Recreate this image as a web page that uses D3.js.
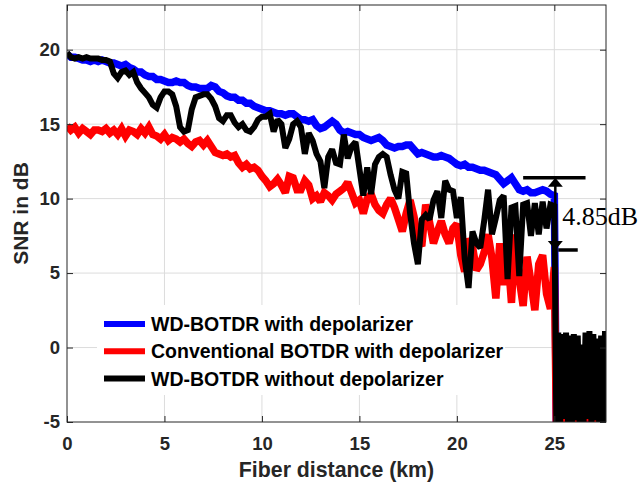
<!DOCTYPE html>
<html><head><meta charset="utf-8">
<script src="https://cdn.jsdelivr.net/npm/d3@7"></script>
<style>html,body{margin:0;padding:0;background:#fff;} svg{display:block;}</style>
</head><body><svg id="c" width="641" height="484"></svg>
<script>
// ---------------- DATA ----------------
const seriesNames = ["WD-BOTDR with depolarizer", "Conventional BOTDR with depolarizer", "WD-BOTDR without depolarizer"];
const xTicks = [0, 5, 10, 15, 20, 25];
const yTicks = [-5, 0, 5, 10, 15, 20];
const xLabel = "Fiber distance (km)";
const yLabel = "SNR in dB";
const annotationText = "4.85dB";
const annotationTop = 11.4;      // dB
const annotationBottom = 6.55;   // dB

// sampled 0 .. 25.0 km every 0.2 km
const blueMain = [
 19.7,19.5,19.5,19.4,19.3,19.3,19.2,19.3,19.2,19.3,
 19.2,19.1,19.1,19.0,18.9,19.0,18.8,18.7,18.5,18.5,
 18.3,18.2,18.2,18.0,18.0,17.9,17.8,17.8,17.9,17.8,
 17.8,17.6,17.5,17.5,17.4,17.4,17.4,17.6,17.5,17.2,
 17.1,16.9,16.8,16.8,16.6,16.6,16.4,16.4,16.2,16.1,
 16.0,15.9,15.9,15.8,15.7,15.7,15.6,15.7,15.7,15.5,
 15.3,15.3,15.2,15.3,14.9,14.7,14.8,15.0,15.2,15.0,
 14.6,14.4,14.5,14.4,14.3,14.3,14.1,14.0,13.9,14.0,
 14.1,13.9,13.6,13.5,13.4,13.5,13.5,13.6,13.6,13.3,
 13.0,13.1,13.0,12.9,12.8,12.8,12.9,12.8,12.7,12.5,
 12.3,12.2,12.3,12.1,12.1,12.0,11.9,11.9,11.8,11.7,
 11.6,11.3,11.0,11.2,11.4,11.0,10.6,10.5,10.6,10.4,
 10.4,10.5,10.6,10.5,10.3,10.2
];
const redMain = [
 14.9,14.6,14.8,14.4,14.7,14.5,14.3,14.6,14.6,14.5,
 14.7,14.4,14.6,14.3,14.7,14.2,14.6,14.5,14.3,14.7,
 14.4,14.8,14.3,14.2,14.0,14.3,13.9,14.1,14.0,13.8,
 14.0,13.7,13.5,13.8,13.9,13.6,13.9,13.5,13.1,13.0,
 12.9,13.0,12.8,12.9,12.4,12.1,12.3,12.0,12.1,11.9,
 11.5,11.2,10.8,11.0,11.3,10.9,10.4,11.5,11.4,10.6,
 10.6,11.2,10.9,10.0,10.2,9.8,10.4,10.2,9.9,10.3,
 10.5,10.7,11.1,10.4,9.7,9.9,9.0,10.0,10.3,9.6,
 9.2,9.0,9.6,10.0,9.4,8.6,7.8,9.0,9.9,8.8,
 7.2,6.8,9.6,8.4,7.0,7.8,8.5,7.6,7.0,8.0,
 8.3,6.2,5.1,7.3,6.8,5.2,5.6,6.4,7.6,6.0,
 3.3,7.0,4.2,6.5,3.0,7.6,4.6,2.8,6.1,4.4,
 2.5,5.6,6.2,3.6,2.6,5.4
];
const blackMain = [
 19.8,19.5,19.4,19.5,19.4,19.5,19.4,19.4,19.4,19.3,
 19.3,19.2,18.4,18.1,18.5,18.6,18.3,18.5,17.8,17.4,
 17.1,16.8,16.3,16.1,16.8,17.2,17.2,17.0,16.2,14.8,
 14.5,14.6,16.0,16.8,16.9,17.0,17.0,16.7,16.2,15.4,
 15.2,15.6,15.6,15.1,14.8,15.0,14.6,14.5,14.8,15.3,
 15.5,15.5,15.7,14.5,15.3,15.0,13.4,14.0,15.0,15.2,
 14.8,13.0,14.4,13.9,13.0,12.5,10.7,12.8,13.3,12.4,
 12.3,14.3,12.7,13.5,13.8,12.0,10.2,12.1,10.3,12.3,
 12.8,13.0,12.8,11.6,10.6,10.0,11.8,11.7,9.0,7.0,
 5.6,8.6,8.9,8.6,9.9,10.5,8.7,11.2,10.6,10.5,
 8.7,10.1,6.0,4.0,7.8,7.0,6.7,8.5,10.6,7.6,
 8.7,9.9,10.2,4.6,9.4,9.5,4.8,9.6,9.7,7.5,
 9.7,7.6,9.8,8.0,9.6,9.5
];
// sampled 25.1 .. 27.7 km every 0.1 km (beyond fiber end)
const blueTail = [
 -5.0,-2.5,-5.0,-2.8,-5.0,-2.2,-4.9,-3.0,-5.0,-2.6,-5.0,-2.4,-4.8,-2.9,
 -5.0,-2.7,-5.0,-2.3,-4.9,-2.8,-5.0,-2.6,-5.0,-3.1,-4.9,-3.0,-5.0
];
const redTail = [
 -5.0,-3.9,-5.0,-0.5,-5.0,-1.0,-4.9,-0.8,-5.0,-0.6,-5.0,-1.2,-5.0,-0.4,
 -5.0,-0.9,-4.9,-0.7,-5.0,-1.1,-5.0,0.3,-5.0,-0.6,-5.0,-0.8,-5.0
];
const blackTail = [
 -5.0,1.0,-5.0,0.9,-4.8,1.0,-5.0,0.8,-5.0,0.9,-4.9,0.8,-5.0,0.2,
 -5.0,1.0,-4.8,1.1,-5.0,0.9,-4.9,0.6,-5.0,0.8,-5.0,1.1,-4.8
];
const colors = ["#0000ff", "#ff0000", "#000000"];

// sampling grids
const distMain = d3.range(blueMain.length).map(i => +(i * 0.2).toFixed(1));
const distTail = d3.range(blackTail.length).map(i => +(25.1 + i * 0.1).toFixed(1));
const dist = distMain.concat(distTail);
const series = [blueMain.concat(blueTail), redMain.concat(redTail), blackMain.concat(blackTail)];

// ---------------- LAYOUT ----------------
const W = 641, H = 484;
const m = {left: 67, right: 35, top: 5, bottom: 62};
const iw = W - m.left - m.right, ih = H - m.top - m.bottom;
const x = d3.scaleLinear().domain([0, 27.65]).range([0, iw]);
const y = d3.scaleLinear().domain([-5, 23]).range([ih, 0]);

const svg = d3.select("#c");
const g = svg.append("g").attr("transform", `translate(${m.left},${m.top})`);
const axisColor = "#262626";
const sans = "'Liberation Sans', Arial, Helvetica, sans-serif";

svg.append("defs").append("clipPath").attr("id", "clip")
  .append("rect").attr("width", iw).attr("height", ih);

// grid
g.append("g").selectAll("line").data(xTicks.filter(d => d > 0)).join("line")
  .attr("x1", d => x(d)).attr("x2", d => x(d)).attr("y1", 0).attr("y2", ih)
  .attr("stroke", "#dcdcdc").attr("stroke-width", 1);
g.append("g").selectAll("line").data(yTicks.filter(d => d > -5)).join("line")
  .attr("y1", d => y(d)).attr("y2", d => y(d)).attr("x1", 0).attr("x2", iw)
  .attr("stroke", "#dcdcdc").attr("stroke-width", 1);

// lines
const line = d3.line().x((d, i) => x(dist[i])).y(d => y(d));
const widths = [7.5, 7.5, 6];
g.append("g").attr("clip-path", "url(#clip)").selectAll("path").data(series).join("path")
  .attr("d", d => line(d)).attr("fill", "none")
  .attr("stroke", (d, i) => colors[i]).attr("stroke-width", (d, i) => widths[i])
  .attr("stroke-linejoin", "miter").attr("stroke-miterlimit", 2);

// axes
const tickFmt = d => String(d);
function styleAxis(sel) {
  sel.select(".domain").remove();
  sel.selectAll(".tick line").attr("stroke", axisColor);
  sel.selectAll("text").attr("fill", axisColor).attr("font-family", sans)
    .attr("font-weight", "bold").attr("font-size", 18.5);
}
g.append("g").attr("transform", `translate(0,${ih})`)
  .call(d3.axisBottom(x).tickValues(xTicks).tickFormat(tickFmt).tickSize(-6).tickPadding(15)).call(styleAxis);
g.append("g")
  .call(d3.axisLeft(y).tickValues(yTicks).tickFormat(tickFmt).tickSize(-6).tickPadding(7)).call(styleAxis);
g.append("g")
  .call(d3.axisTop(x).tickValues(xTicks).tickFormat("").tickSize(-6)).call(styleAxis);
g.append("g").attr("transform", `translate(${iw},0)`)
  .call(d3.axisRight(y).tickValues(yTicks).tickFormat("").tickSize(-6)).call(styleAxis);
g.append("rect").attr("width", iw).attr("height", ih).attr("fill", "none")
  .attr("stroke", axisColor).attr("stroke-width", 1);

// axis labels
svg.append("text").attr("x", m.left + iw / 2).attr("y", 477).attr("text-anchor", "middle")
  .attr("font-family", sans).attr("font-weight", "bold").attr("font-size", 21.3).attr("fill", axisColor)
  .text(xLabel);
svg.append("text").attr("transform", `translate(28,${m.top + ih / 2}) rotate(-90)`).attr("text-anchor", "middle")
  .attr("font-family", sans).attr("font-weight", "bold").attr("font-size", 21).attr("fill", axisColor)
  .text(yLabel);

// legend
const lg = svg.append("g").attr("transform", "translate(97,305)");
lg.append("rect").attr("width", 408).attr("height", 90).attr("fill", "#fff");
seriesNames.forEach((name, i) => {
  const cy = 19 + i * 27.3;
  lg.append("line").attr("x1", 7).attr("x2", 48).attr("y1", cy).attr("y2", cy)
    .attr("stroke", colors[i]).attr("stroke-width", 6);
  lg.append("text").attr("x", 54).attr("y", cy + 7).attr("font-family", sans).attr("font-weight", "bold")
    .attr("font-size", 19.5).attr("fill", "#000").text(name);
});

// annotation (data coordinates)
const ax = 25.05;
const an = g.append("g");
an.append("line").attr("x1", x(23.4)).attr("x2", x(26.6)).attr("y1", y(annotationTop)).attr("y2", y(annotationTop))
  .attr("stroke", "#000").attr("stroke-width", 3.5);
an.append("line").attr("x1", x(25.2)).attr("x2", x(26.2)).attr("y1", y(annotationBottom)).attr("y2", y(annotationBottom))
  .attr("stroke", "#000").attr("stroke-width", 3.5);
an.append("line").attr("x1", x(ax)).attr("x2", x(ax)).attr("y1", y(annotationTop) + 6).attr("y2", y(annotationBottom) - 6)
  .attr("stroke", "#000").attr("stroke-width", 2.5);
const tx = x(ax), ty = y(annotationTop), by = y(annotationBottom);
an.append("path").attr("d", `M${tx},${ty}L${tx - 7.5},${ty + 9}L${tx + 7.5},${ty + 9}Z`).attr("fill", "#000");
an.append("path").attr("d", `M${tx},${by}L${tx - 7.5},${by - 9}L${tx + 7.5},${by - 9}Z`).attr("fill", "#000");
svg.append("text").attr("x", m.left + x(25.4)).attr("y", m.top + y(8.2))
  .attr("font-family", "'Liberation Serif', 'Times New Roman', serif").attr("font-size", 26).attr("fill", "#000")
  .text(annotationText);
</script></body></html>
